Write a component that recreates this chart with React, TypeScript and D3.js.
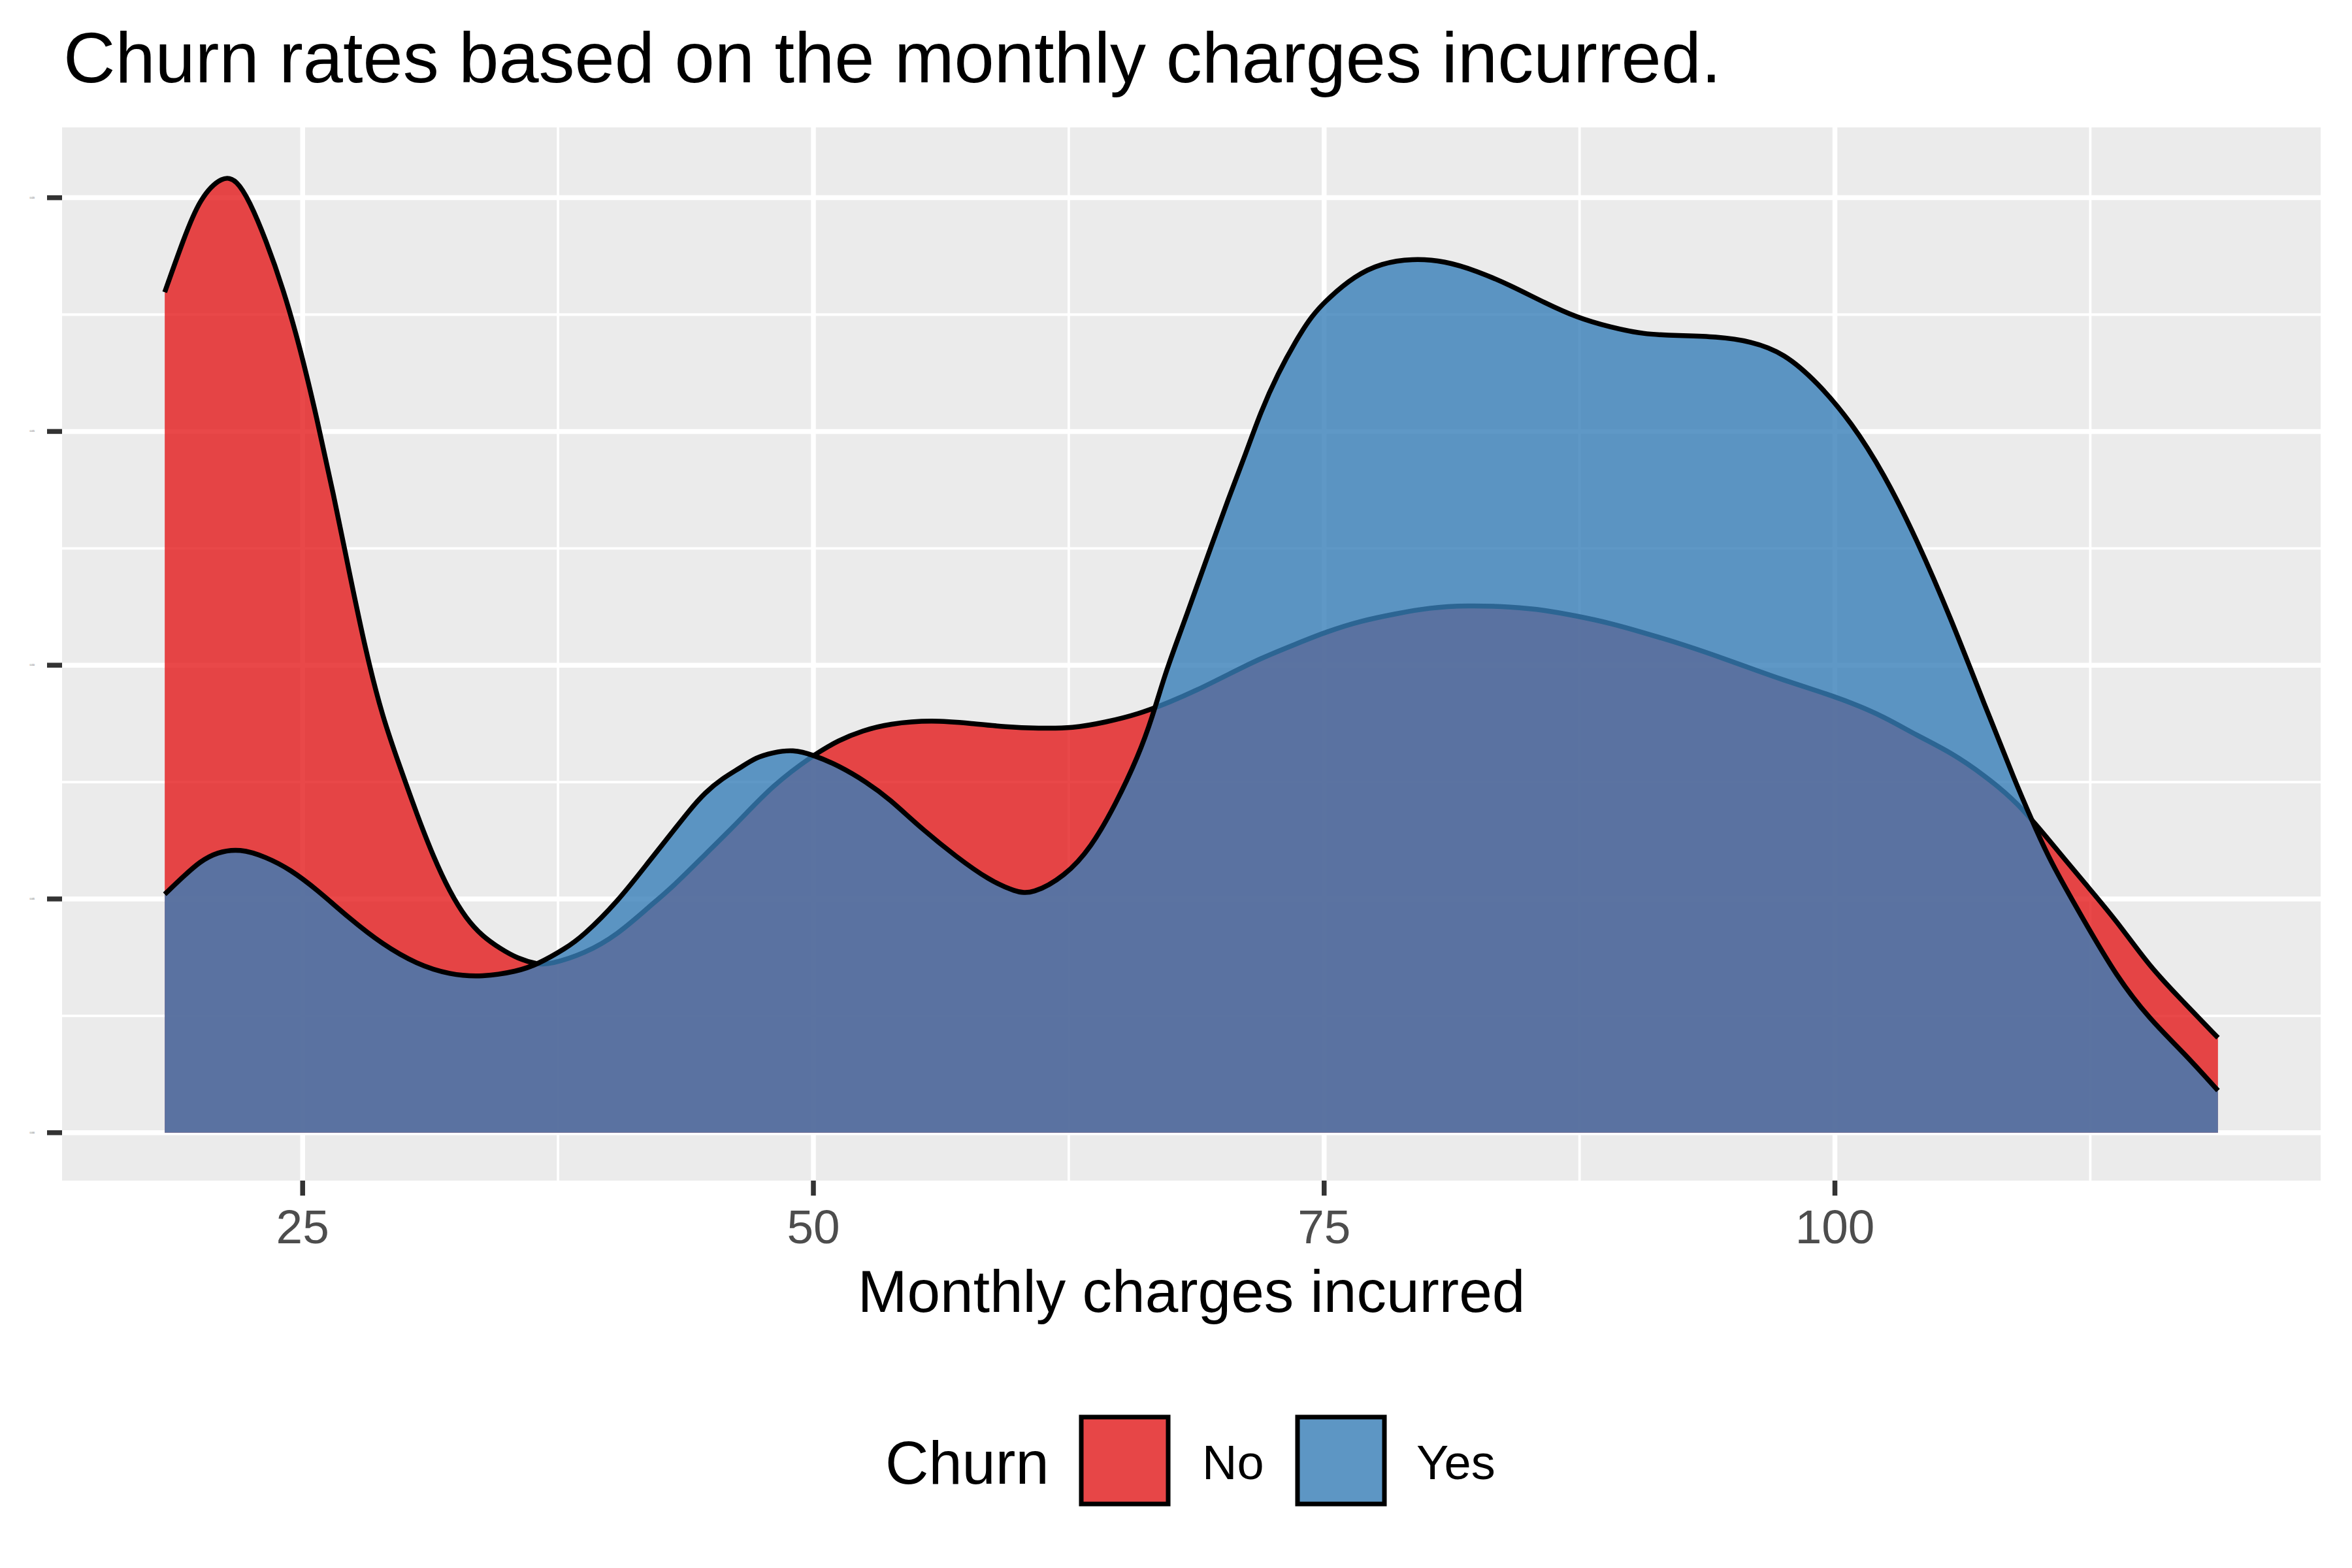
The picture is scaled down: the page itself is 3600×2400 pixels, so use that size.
import React from "react";
import * as d3 from "d3";

const noX = [18.25, 19.16, 19.97, 21.1, 21.77, 22.4, 23.2, 24.05, 24.87, 25.7, 26.5, 27.3, 28.1, 28.9, 29.8, 30.6, 31.4, 32.2, 33.0, 33.8, 34.7, 35.5, 36.5, 37.1, 38.8, 40.4, 42.0, 43.1, 44.7, 46.4, 48.0, 50.0, 51.25, 52.4, 53.7, 55.8, 57.8, 59.4, 61.0, 62.7, 64.3, 65.9, 67.55, 68.7, 70.3, 71.9, 73.6, 75.2, 76.8, 78.5, 80.1, 82.0, 84.2, 85.8, 87.4, 89.0, 90.6, 92.3, 94.2, 95.9, 97.5, 99.15, 100.8, 102.4, 104.0, 105.7, 107.3, 108.9, 110.5, 112.2, 113.8, 115.4, 117.1, 118.75];
const noDensity = [0.01798, 0.0191, 0.02, 0.02048, 0.02038, 0.01993, 0.0191, 0.01805, 0.0168, 0.01528, 0.01368, 0.01195, 0.01028, 0.0089, 0.00778, 0.0068, 0.0059, 0.00515, 0.00458, 0.0042, 0.00393, 0.00373, 0.0036, 0.0036, 0.00383, 0.00423, 0.00485, 0.00525, 0.00595, 0.00668, 0.00743, 0.00808, 0.0084, 0.0086, 0.00875, 0.00883, 0.00875, 0.00868, 0.00865, 0.00865, 0.00878, 0.00895, 0.00923, 0.00945, 0.0098, 0.01015, 0.01045, 0.01073, 0.01095, 0.0111, 0.01123, 0.01128, 0.01125, 0.01118, 0.01105, 0.0109, 0.0107, 0.01048, 0.0102, 0.00993, 0.00968, 0.00945, 0.0092, 0.0089, 0.0085, 0.00813, 0.00765, 0.00708, 0.00625, 0.00535, 0.00453, 0.00355, 0.00278, 0.00203];

const yesX = [18.25, 19.16, 19.97, 20.8, 21.93, 23.2, 24.4, 25.7, 27.3, 28.9, 30.6, 32.2, 33.8, 35.5, 36.5, 37.9, 38.7, 40.4, 42.0, 43.1, 43.9, 44.7, 45.55, 46.4, 47.2, 48.0, 49.0, 50.0, 51.25, 52.6, 53.7, 55.3, 57.0, 58.6, 59.9, 60.7, 62.3, 63.6, 64.8, 65.9, 66.6, 67.2, 68.0, 68.7, 69.5, 70.3, 71.1, 71.9, 72.75, 73.6, 74.4, 75.2, 76.5, 77.8, 79.3, 80.9, 82.5, 84.1, 85.8, 87.4, 89.0, 90.6, 92.3, 94.2, 95.9, 97.5, 99.15, 100.8, 102.4, 104.0, 105.7, 107.3, 108.9, 109.6, 110.5, 112.2, 113.8, 115.4, 117.1, 118.75];
const yesDensity = [0.0051, 0.00548, 0.0058, 0.006, 0.00608, 0.0059, 0.00563, 0.0052, 0.00458, 0.00403, 0.0036, 0.00338, 0.00333, 0.00345, 0.0036, 0.00395, 0.0042, 0.00493, 0.00583, 0.00643, 0.00688, 0.00728, 0.00758, 0.0078, 0.00803, 0.00813, 0.0082, 0.00808, 0.00785, 0.0075, 0.00715, 0.0065, 0.0059, 0.0054, 0.00515, 0.0051, 0.00548, 0.0061, 0.00703, 0.00805, 0.0089, 0.0098, 0.01075, 0.0116, 0.01258, 0.01355, 0.01445, 0.01543, 0.01625, 0.01693, 0.01748, 0.01785, 0.01833, 0.0186, 0.0187, 0.01865, 0.01843, 0.01813, 0.01775, 0.01743, 0.01723, 0.01708, 0.01705, 0.01703, 0.01693, 0.01668, 0.01605, 0.0152, 0.0141, 0.0127, 0.01098, 0.00918, 0.00743, 0.00673, 0.00583, 0.00453, 0.00333, 0.00243, 0.0017, 0.0009];

const churnLevels = ["No", "Yes"];
const churnColors = ["#E41A1C", "#377EB8"];
const xTicks = [25, 50, 75, 100];
const xMinor = [37.5, 62.5, 87.5, 112.5];
const yTicks = [0, 0.005, 0.01, 0.015, 0.02];
const yMinor = [0.0025, 0.0075, 0.0125, 0.0175];
const titleText = "Churn rates based on the monthly charges incurred.";
const xTitle = "Monthly charges incurred";
const legendTitle = "Churn";

const FONT = "'Liberation Sans', Arial, sans-serif";

export default function App() {
  const W = 3600, H = 2400;
  const panel = { left: 95, right: 3552, top: 195, bottom: 1807 };

  const allX = [...noX, ...yesX];
  const xmin = d3.min(allX)!, xmax = d3.max(allX)!;
  const xpad = (xmax - xmin) * 0.05;
  const x = d3.scaleLinear().domain([xmin - xpad, xmax + xpad]).range([panel.left, panel.right]);

  const ymax = d3.max([...noDensity, ...yesDensity])!;
  const ypad = ymax * 0.05;
  const y = d3.scaleLinear().domain([-ypad, ymax + ypad]).range([panel.bottom, panel.top]);

  const series = [
    { key: churnLevels[0], color: churnColors[0], pts: noX.map((v, i) => [v, noDensity[i]] as [number, number]) },
    { key: churnLevels[1], color: churnColors[1], pts: yesX.map((v, i) => [v, yesDensity[i]] as [number, number]) },
  ];

  const curve = d3.curveBasis;
  const area = d3.area<[number, number]>().x(d => x(d[0])).y0(y(0)).y1(d => y(d[1])).curve(curve);
  const line = d3.line<[number, number]>().x(d => x(d[0])).y(d => y(d[1])).curve(curve);

  const lw = 7.5;
  const majorW = 7.5, minorW = 3.8;

  const keyY = 2165, keySize = 141;
  const keyXs = [1651, 1982];
  const labelXs = [1840, 2168];

  return (
    <svg width={W} height={H} style={{ position: "absolute", left: 0, top: 0, background: "#FFFFFF" }} xmlns="http://www.w3.org/2000/svg">
      <rect x={0} y={0} width={W} height={H} fill="#FFFFFF" />
      <text x={97} y={126} fontFamily={FONT} fontSize={110} fill="#000000">{titleText}</text>

      <rect x={panel.left} y={panel.top} width={panel.right - panel.left} height={panel.bottom - panel.top} fill="#EBEBEB" />
      {yMinor.map(v => (
        <line key={"ym" + v} x1={panel.left} x2={panel.right} y1={y(v)} y2={y(v)} stroke="#FFFFFF" strokeWidth={minorW} />
      ))}
      {xMinor.map(v => (
        <line key={"xm" + v} x1={x(v)} x2={x(v)} y1={panel.top} y2={panel.bottom} stroke="#FFFFFF" strokeWidth={minorW} />
      ))}
      {yTicks.map(v => (
        <line key={"yM" + v} x1={panel.left} x2={panel.right} y1={y(v)} y2={y(v)} stroke="#FFFFFF" strokeWidth={majorW} />
      ))}
      {xTicks.map(v => (
        <line key={"xM" + v} x1={x(v)} x2={x(v)} y1={panel.top} y2={panel.bottom} stroke="#FFFFFF" strokeWidth={majorW} />
      ))}

      {series.map(s => (
        <g key={s.key}>
          <path d={area(s.pts) || ""} fill={s.color} fillOpacity={0.8} stroke="none" />
          <path d={line(s.pts) || ""} fill="none" stroke="#000000" strokeWidth={lw} strokeLinejoin="round" />
        </g>
      ))}

      {yTicks.map(v => (
        <g key={"yt" + v}>
          <line x1={panel.left - 23} x2={panel.left} y1={y(v)} y2={y(v)} stroke="#333333" strokeWidth={majorW} />
          <text x={53} y={y(v) + 1} fontFamily={FONT} fontSize={3} fill="#4D4D4D" textAnchor="end">{v.toFixed(3)}</text>
        </g>
      ))}
      {xTicks.map(v => (
        <g key={"xt" + v}>
          <line x1={x(v)} x2={x(v)} y1={panel.bottom} y2={panel.bottom + 23} stroke="#333333" strokeWidth={majorW} />
          <text x={x(v)} y={1903} fontFamily={FONT} fontSize={73} fill="#4D4D4D" textAnchor="middle">{v}</text>
        </g>
      ))}

      <text x={(panel.left + panel.right) / 2} y={2008} fontFamily={FONT} fontSize={91} fill="#000000" textAnchor="middle">{xTitle}</text>

      <text x={1355} y={2271} fontFamily={FONT} fontSize={92} fill="#000000">{legendTitle}</text>
      {churnLevels.map((lvl, i) => (
        <g key={"lg" + lvl}>
          <rect x={keyXs[i]} y={keyY} width={keySize} height={keySize} fill="#F2F2F2" />
          <rect x={keyXs[i] + 4} y={keyY + 4} width={keySize - 8} height={keySize - 8} fill={churnColors[i]} fillOpacity={0.8} stroke="#000000" strokeWidth={7} />
          <text x={labelXs[i]} y={2264} fontFamily={FONT} fontSize={74} fill="#000000">{lvl}</text>
        </g>
      ))}
    </svg>
  );
}
